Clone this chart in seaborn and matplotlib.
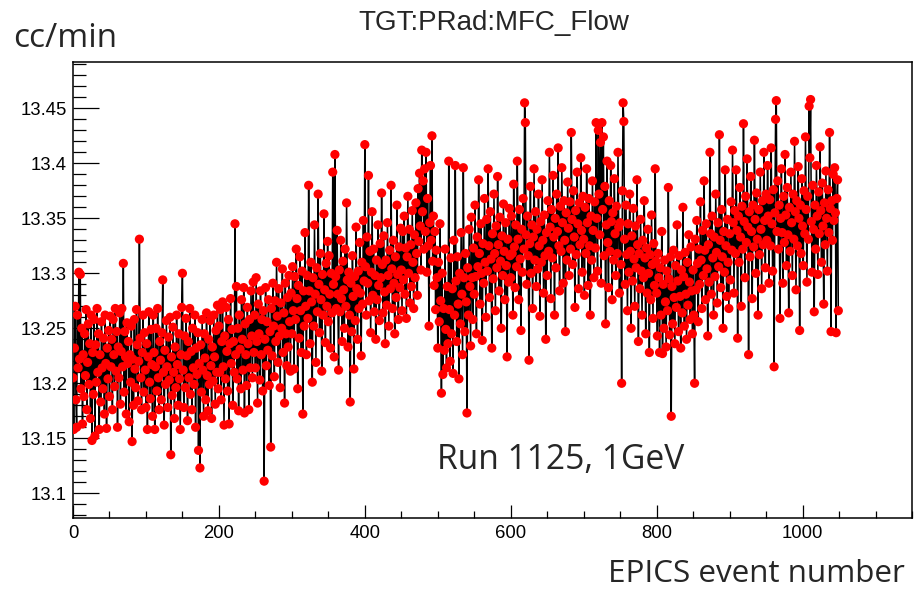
import numpy as np
import pandas as pd
import matplotlib
matplotlib.use("Agg")
import matplotlib.pyplot as plt
from matplotlib.ticker import MultipleLocator, FuncFormatter
import seaborn as sns

title = "TGT:PRad:MFC_Flow"
y_label = "cc/min"
x_label = "EPICS event number"
note = "Run 1125, 1GeV"

flow = [
    13.205, 13.158, 13.232, 13.270, 13.185, 13.160, 13.262, 13.214, 13.301, 13.222, 13.299, 13.195, 13.250, 13.163, 13.226, 13.188, 13.245, 13.207, 13.267, 13.176, 13.219, 13.254, 13.199, 13.236, 13.168,
    13.262, 13.148, 13.228, 13.190, 13.258, 13.152, 13.235, 13.201, 13.268, 13.210, 13.245, 13.158, 13.226, 13.183, 13.256, 13.214, 13.195, 13.241, 13.172, 13.262, 13.218, 13.159, 13.232, 13.204, 13.248,
    13.188, 13.261, 13.215, 13.240, 13.176, 13.258, 13.226, 13.197, 13.268, 13.211, 13.247, 13.160, 13.233, 13.205, 13.264, 13.181, 13.229, 13.268, 13.215, 13.309, 13.192, 13.247, 13.224, 13.172, 13.255,
    13.218, 13.238, 13.165, 13.226, 13.201, 13.252, 13.147, 13.222, 13.180, 13.258, 13.213, 13.196, 13.267, 13.235, 13.184, 13.220, 13.331, 13.241, 13.205, 13.176, 13.228, 13.262, 13.192, 13.246, 13.212,
    13.178, 13.236, 13.158, 13.224, 13.265, 13.201, 13.186, 13.249, 13.217, 13.170, 13.262, 13.228, 13.158, 13.215, 13.250, 13.193, 13.268, 13.205, 13.176, 13.238, 13.221, 13.185, 13.246, 13.294, 13.210,
    13.162, 13.230, 13.199, 13.257, 13.215, 13.178, 13.242, 13.203, 13.260, 13.135, 13.224, 13.189, 13.251, 13.210, 13.168, 13.233, 13.196, 13.262, 13.217, 13.180, 13.245, 13.204, 13.158, 13.226, 13.269,
    13.300, 13.212, 13.178, 13.243, 13.196, 13.259, 13.225, 13.166, 13.238, 13.205, 13.268, 13.190, 13.229, 13.176, 13.250, 13.214, 13.199, 13.262, 13.160, 13.232, 13.208, 13.246, 13.139, 13.218, 13.123,
    13.235, 13.192, 13.258, 13.212, 13.170, 13.245, 13.223, 13.185, 13.264, 13.207, 13.175, 13.240, 13.199, 13.257, 13.216, 13.168, 13.233, 13.202, 13.262, 13.224, 13.181, 13.248, 13.210, 13.271, 13.195,
    13.252, 13.210, 13.267, 13.185, 13.238, 13.274, 13.215, 13.162, 13.243, 13.204, 13.269, 13.229, 13.193, 13.258, 13.163, 13.236, 13.277, 13.218, 13.249, 13.180, 13.238, 13.210, 13.345, 13.226, 13.288,
    13.204, 13.250, 13.175, 13.262, 13.231, 13.195, 13.276, 13.240, 13.212, 13.287, 13.173, 13.254, 13.226, 13.198, 13.269, 13.236, 13.176, 13.258, 13.214, 13.284, 13.243, 13.205, 13.292, 13.228, 13.262,
    13.214, 13.296, 13.238, 13.182, 13.272, 13.245, 13.203, 13.284, 13.226, 13.258, 13.193, 13.266, 13.111, 13.240, 13.287, 13.216, 13.256, 13.230, 13.276, 13.198, 13.247, 13.142, 13.268, 13.225, 13.291,
    13.252, 13.206, 13.275, 13.238, 13.310, 13.261, 13.219, 13.286, 13.243, 13.196, 13.273, 13.250, 13.304, 13.228, 13.264, 13.182, 13.291, 13.245, 13.216, 13.278, 13.233, 13.298, 13.256, 13.211, 13.282,
    13.245, 13.306, 13.266, 13.213, 13.297, 13.258, 13.322, 13.277, 13.195, 13.289, 13.241, 13.315, 13.266, 13.228, 13.302, 13.172, 13.284, 13.252, 13.337, 13.270, 13.226, 13.298, 13.259, 13.380, 13.284,
    13.236, 13.310, 13.274, 13.201, 13.296, 13.252, 13.344, 13.281, 13.219, 13.305, 13.265, 13.372, 13.290, 13.246, 13.318, 13.276, 13.211, 13.299, 13.262, 13.354, 13.285, 13.237, 13.309, 13.270, 13.329,
    13.256, 13.316, 13.281, 13.232, 13.300, 13.264, 13.392, 13.290, 13.224, 13.408, 13.297, 13.268, 13.339, 13.281, 13.212, 13.303, 13.265, 13.330, 13.277, 13.238, 13.311, 13.285, 13.250, 13.322, 13.270,
    13.364, 13.294, 13.233, 13.301, 13.262, 13.183, 13.291, 13.247, 13.316, 13.279, 13.213, 13.297, 13.257, 13.342, 13.286, 13.240, 13.302, 13.268, 13.328, 13.282, 13.225, 13.310, 13.272, 13.348, 13.293,
    13.417, 13.306, 13.262, 13.333, 13.291, 13.389, 13.275, 13.320, 13.246, 13.301, 13.356, 13.280, 13.322, 13.265, 13.298, 13.240, 13.312, 13.276, 13.344, 13.289, 13.257, 13.327, 13.296, 13.373, 13.308,
    13.264, 13.334, 13.283, 13.236, 13.312, 13.271, 13.346, 13.298, 13.252, 13.321, 13.286, 13.380, 13.304, 13.268, 13.330, 13.291, 13.245, 13.315, 13.278, 13.362, 13.299, 13.258, 13.324, 13.287, 13.341,
    13.303, 13.266, 13.338, 13.294, 13.352, 13.281, 13.323, 13.259, 13.315, 13.370, 13.300, 13.340, 13.273, 13.326, 13.288, 13.357, 13.310, 13.268, 13.335, 13.296, 13.364, 13.318, 13.280, 13.377, 13.329,
    13.391, 13.343, 13.303, 13.412, 13.356, 13.384, 13.322, 13.395, 13.338, 13.410, 13.301, 13.368, 13.325, 13.252, 13.346, 13.398, 13.330, 13.425, 13.311, 13.352, 13.289, 13.338, 13.267, 13.321, 13.296,
    13.232, 13.310, 13.256, 13.345, 13.275, 13.191, 13.300, 13.208, 13.268, 13.230, 13.322, 13.249, 13.214, 13.288, 13.236, 13.402, 13.267, 13.220, 13.314, 13.245, 13.286, 13.209, 13.330, 13.262, 13.398,
    13.293, 13.238, 13.315, 13.272, 13.204, 13.300, 13.254, 13.337, 13.281, 13.226, 13.396, 13.296, 13.247, 13.318, 13.274, 13.173, 13.305, 13.262, 13.340, 13.288, 13.234, 13.351, 13.296, 13.258, 13.323,
    13.281, 13.362, 13.297, 13.245, 13.333, 13.306, 13.385, 13.318, 13.272, 13.345, 13.300, 13.239, 13.327, 13.291, 13.368, 13.310, 13.260, 13.349, 13.302, 13.395, 13.325, 13.278, 13.356, 13.313, 13.232,
    13.336, 13.295, 13.372, 13.318, 13.266, 13.343, 13.305, 13.388, 13.326, 13.284, 13.351, 13.311, 13.250, 13.334, 13.298, 13.363, 13.320, 13.276, 13.346, 13.307, 13.224, 13.331, 13.292, 13.359, 13.316,
    13.296, 13.352, 13.318, 13.262, 13.381, 13.324, 13.287, 13.344, 13.306, 13.402, 13.331, 13.276, 13.358, 13.313, 13.248, 13.340, 13.301, 13.368, 13.322, 13.455, 13.437, 13.335, 13.290, 13.352, 13.316,
    13.221, 13.327, 13.379, 13.300, 13.344, 13.268, 13.333, 13.395, 13.312, 13.356, 13.288, 13.340, 13.304, 13.372, 13.325, 13.261, 13.347, 13.310, 13.385, 13.330, 13.282, 13.353, 13.316, 13.240, 13.337,
    13.298, 13.366, 13.320, 13.410, 13.342, 13.277, 13.358, 13.314, 13.389, 13.333, 13.262, 13.350, 13.305, 13.372, 13.338, 13.414, 13.325, 13.284, 13.361, 13.320, 13.396, 13.346, 13.291, 13.366, 13.330,
    13.247, 13.355, 13.312, 13.383, 13.341, 13.298, 13.365, 13.322, 13.428, 13.349, 13.308, 13.375, 13.333, 13.269, 13.357, 13.317, 13.392, 13.345, 13.286, 13.364, 13.326, 13.405, 13.339, 13.301, 13.370,
    13.331, 13.280, 13.360, 13.318, 13.395, 13.346, 13.289, 13.368, 13.325, 13.262, 13.352, 13.312, 13.384, 13.339, 13.296, 13.365, 13.323, 13.437, 13.350, 13.302, 13.430, 13.372, 13.335, 13.419, 13.291,
    13.437, 13.358, 13.424, 13.316, 13.379, 13.254, 13.344, 13.402, 13.328, 13.287, 13.366, 13.320, 13.398, 13.347, 13.276, 13.355, 13.312, 13.386, 13.336, 13.298, 13.361, 13.318, 13.410, 13.342, 13.282,
    13.346, 13.308, 13.200, 13.375, 13.455, 13.438, 13.331, 13.290, 13.362, 13.317, 13.266, 13.345, 13.301, 13.372, 13.320, 13.250, 13.334, 13.293, 13.359, 13.313, 13.270, 13.343, 13.305, 13.385, 13.326,
    13.238, 13.318, 13.286, 13.349, 13.302, 13.262, 13.330, 13.296, 13.366, 13.314, 13.245, 13.323, 13.282, 13.340, 13.300, 13.228, 13.317, 13.276, 13.353, 13.308, 13.259, 13.327, 13.289, 13.395, 13.311,
    13.282, 13.243, 13.318, 13.296, 13.228, 13.305, 13.262, 13.338, 13.227, 13.290, 13.250, 13.312, 13.274, 13.233, 13.302, 13.266, 13.378, 13.295, 13.244, 13.315, 13.170, 13.288, 13.254, 13.321, 13.278,
    13.236, 13.307, 13.269, 13.344, 13.293, 13.247, 13.316, 13.279, 13.232, 13.303, 13.264, 13.360, 13.297, 13.252, 13.319, 13.281, 13.240, 13.310, 13.271, 13.335, 13.292, 13.258, 13.324, 13.284, 13.245,
    13.303, 13.262, 13.200, 13.331, 13.285, 13.348, 13.309, 13.256, 13.322, 13.290, 13.365, 13.312, 13.268, 13.339, 13.298, 13.384, 13.321, 13.276, 13.345, 13.304, 13.243, 13.326, 13.292, 13.410, 13.336,
    13.281, 13.352, 13.314, 13.262, 13.333, 13.297, 13.372, 13.319, 13.273, 13.346, 13.306, 13.426, 13.330, 13.287, 13.358, 13.315, 13.250, 13.338, 13.301, 13.394, 13.325, 13.279, 13.349, 13.310, 13.268,
    13.336, 13.294, 13.365, 13.321, 13.412, 13.346, 13.282, 13.357, 13.318, 13.394, 13.339, 13.241, 13.352, 13.310, 13.378, 13.333, 13.270, 13.361, 13.322, 13.436, 13.347, 13.296, 13.370, 13.328, 13.404,
    13.342, 13.226, 13.356, 13.315, 13.388, 13.338, 13.277, 13.362, 13.324, 13.421, 13.349, 13.300, 13.373, 13.331, 13.262, 13.358, 13.317, 13.392, 13.340, 13.286, 13.366, 13.326, 13.410, 13.348, 13.305,
    13.372, 13.330, 13.398, 13.352, 13.291, 13.367, 13.325, 13.414, 13.345, 13.302, 13.376, 13.215, 13.355, 13.440, 13.457, 13.338, 13.384, 13.322, 13.362, 13.259, 13.350, 13.395, 13.337, 13.291, 13.370,
    13.328, 13.408, 13.353, 13.307, 13.378, 13.335, 13.264, 13.360, 13.320, 13.392, 13.346, 13.298, 13.372, 13.331, 13.420, 13.356, 13.285, 13.366, 13.325, 13.397, 13.350, 13.248, 13.362, 13.318, 13.386,
    13.343, 13.307, 13.375, 13.336, 13.424, 13.358, 13.292, 13.370, 13.331, 13.452, 13.405, 13.458, 13.347, 13.301, 13.380, 13.340, 13.265, 13.362, 13.322, 13.398, 13.352, 13.299, 13.374, 13.336, 13.415,
    13.357, 13.310, 13.382, 13.343, 13.272, 13.364, 13.326, 13.393, 13.350, 13.302, 13.376, 13.337, 13.428, 13.359, 13.247, 13.366, 13.330, 13.390, 13.348, 13.396, 13.355, 13.246, 13.368, 13.385, 13.266,
]
event = list(range(len(flow)))

df = pd.DataFrame({"event": event, "flow": flow})

sns.set_style("ticks")
plt.rcParams["font.family"] = ["Liberation Sans", "DejaVu Sans"]

fig = plt.figure(figsize=(9.14, 5.91), dpi=100)
ax = fig.add_axes([73 / 914, 1 - 518 / 591, (912 - 73) / 914, (518 - 61.7) / 591])

sns.lineplot(data=df, x="event", y="flow", ax=ax, color="black", lw=1.1,
             estimator=None, sort=False, zorder=2)
sns.scatterplot(data=df, x="event", y="flow", ax=ax, color="#ff0000", s=44,
                edgecolor="none", linewidth=0, zorder=3)

ax.set_xlim(0, 1150)
ax.set_ylim(13.0775, 13.4924)
ax.set_xlabel("")
ax.set_ylabel("")

ax.xaxis.set_major_locator(MultipleLocator(200))
ax.xaxis.set_minor_locator(MultipleLocator(50))
ax.yaxis.set_major_locator(MultipleLocator(0.05))
ax.yaxis.set_minor_locator(MultipleLocator(0.01))
ax.yaxis.set_major_formatter(FuncFormatter(lambda v, p: f"{v:.2f}".rstrip("0").rstrip(".")))

ax.tick_params(axis="both", which="both", direction="in", top=False, right=False,
               width=0.9, colors="black", labelsize=13.3)
ax.tick_params(axis="y", which="major", length=18.7, pad=4.3)
ax.tick_params(axis="y", which="minor", length=9.4)
ax.tick_params(axis="x", which="major", length=9.2, pad=5)
ax.tick_params(axis="x", which="minor", length=4.8)
for s in ax.spines.values():
    s.set_visible(True)
    s.set_linewidth(1.1)
    s.set_color("black")

fig.text(494 / 914, 1 - 23 / 591, title, ha="center", va="center", fontsize=20,
         family=["Liberation Sans", "DejaVu Sans"])
fig.text(13 / 914, 1 - 47 / 591, y_label, ha="left", va="baseline", fontsize=24,
         family=["Open Sans", "DejaVu Sans"])
fig.text(905 / 914, 1 - 582 / 591, x_label, ha="right", va="baseline", fontsize=22.6,
         family=["Open Sans", "DejaVu Sans"])
ax.text(437 / 914, 1 - 469 / 591, note, transform=fig.transFigure, ha="left",
        va="baseline", fontsize=24.2, family=["Open Sans", "DejaVu Sans"])

fig.savefig("out.png", dpi=100)
